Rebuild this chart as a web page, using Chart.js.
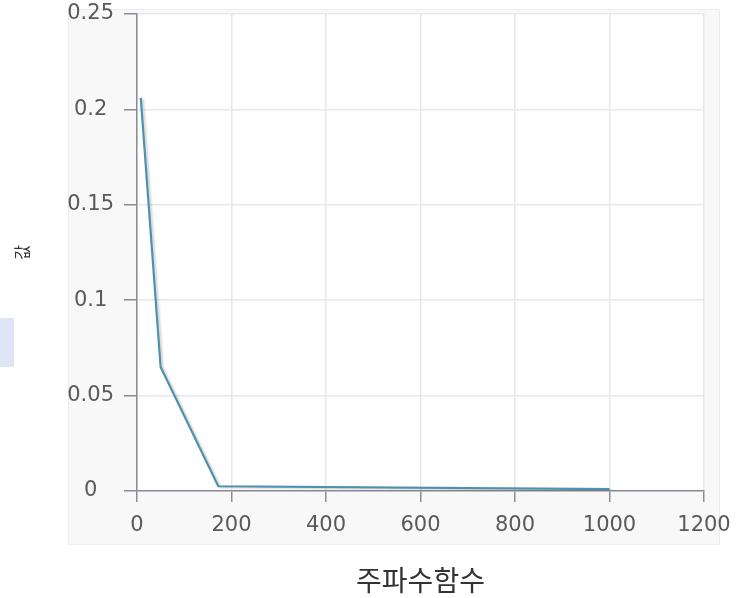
<!DOCTYPE html>
<html>
<head>
<meta charset="utf-8">
<script src="https://cdn.jsdelivr.net/npm/chart.js@4/dist/chart.umd.min.js"></script>
<style>
  html, body { margin: 0; padding: 0; background: #ffffff; }
  #wrap { position: relative; width: 738px; height: 598px; }
  #mark { position: absolute; left: 0; top: 318px; width: 14px; height: 49px; background: #dfe4f6; }
</style>
</head>
<body>
<div id="wrap">
  <canvas id="chart" width="738" height="598"></canvas>
  <div id="mark"></div>
</div>
<script>
// frequency points and measured values
const freqs = [8, 50, 172, 1000];
const values = [0.206, 0.065, 0.0025, 0.001];

const xTicks = [0, 200, 400, 600, 800, 1000, 1200];
const yTicks = [0, 0.05, 0.1, 0.15, 0.2, 0.25];

const xTitle = '주파수함수';
const yTitle = '값';

const LINE_COLOR = '#4d91ae';
const GRID_COLOR = '#e7e7ee';
const AXIS_COLOR = '#8b8b95';
const TICK_FONT = { family: 'DejaVu Sans, sans-serif', size: 21 };

// light panel behind the plot, white plot area on top
const panelPlugin = {
  id: 'panel',
  beforeDraw(chart) {
    const { ctx, chartArea: a } = chart;
    ctx.save();
    ctx.fillStyle = '#f8f8f8';
    ctx.fillRect(68, 9, 652, 536);
    ctx.strokeStyle = '#ececf0';
    ctx.lineWidth = 1;
    ctx.strokeRect(68.5, 9.5, 651, 535);
    ctx.fillStyle = '#ffffff';
    ctx.fillRect(a.left, a.top, a.right - a.left, a.bottom - a.top);
    ctx.restore();
  },
  beforeDatasetsDraw(chart) {
    const ctx = chart.ctx;
    ctx.save();
    ctx.shadowColor = 'rgba(0,0,0,0.18)';
    ctx.shadowOffsetX = 2;
    ctx.shadowOffsetY = 1;
    ctx.shadowBlur = 2;
  },
  afterDatasetsDraw(chart) {
    chart.ctx.restore();
  }
};

new Chart(document.getElementById('chart'), {
  type: 'line',
  data: {
    datasets: [{
      data: freqs.map((f, i) => ({ x: f, y: values[i] })),
      borderColor: LINE_COLOR,
      borderWidth: 2.2,
      pointRadius: 0,
      tension: 0,
      fill: false
    }]
  },
  plugins: [panelPlugin],
  options: {
    responsive: false,
    animation: false,
    layout: { padding: { top: 14, right: 34, left: 0, bottom: 0 } },
    plugins: {
      legend: { display: false },
      tooltip: { enabled: false }
    },
    scales: {
      x: {
        type: 'linear',
        min: 0,
        max: 1200,
        afterFit(scale) {
          scale.height = 107;
          scale.paddingLeft = 0;
          scale.paddingRight = 0;
        },
        afterBuildTicks(scale) { scale.ticks = xTicks.map(v => ({ value: v })); },
        ticks: {
          color: '#5a5a5a',
          font: TICK_FONT,
          padding: 11,
          maxRotation: 0,
          callback: v => String(v)
        },
        grid: { color: GRID_COLOR, tickColor: AXIS_COLOR, tickLength: 11, lineWidth: 1.5 },
        border: { color: AXIS_COLOR, width: 1.5 },
        title: {
          display: true,
          text: xTitle,
          color: '#333333',
          font: { family: 'Noto Sans CJK KR, sans-serif', size: 28 },
          padding: { top: 2, bottom: 1 }
        }
      },
      y: {
        min: 0,
        max: 0.25,
        afterFit(scale) {
          scale.width = 137;
          scale.paddingTop = 0;
          scale.paddingBottom = 0;
        },
        afterBuildTicks(scale) { scale.ticks = yTicks.map(v => ({ value: v })); },
        ticks: {
          color: '#5a5a5a',
          font: TICK_FONT,
          padding: 10,
          crossAlign: 'center',
          callback: v => String(+v.toFixed(2))
        },
        grid: { color: GRID_COLOR, tickColor: AXIS_COLOR, tickLength: 13, lineWidth: 1.5 },
        border: { color: AXIS_COLOR, width: 1.5 },
        title: {
          display: true,
          text: yTitle,
          color: '#333333',
          font: { family: 'Noto Sans CJK KR, sans-serif', size: 16 },
          padding: { top: 12, bottom: 12 }
        }
      }
    }
  }
});
</script>
</body>
</html>
